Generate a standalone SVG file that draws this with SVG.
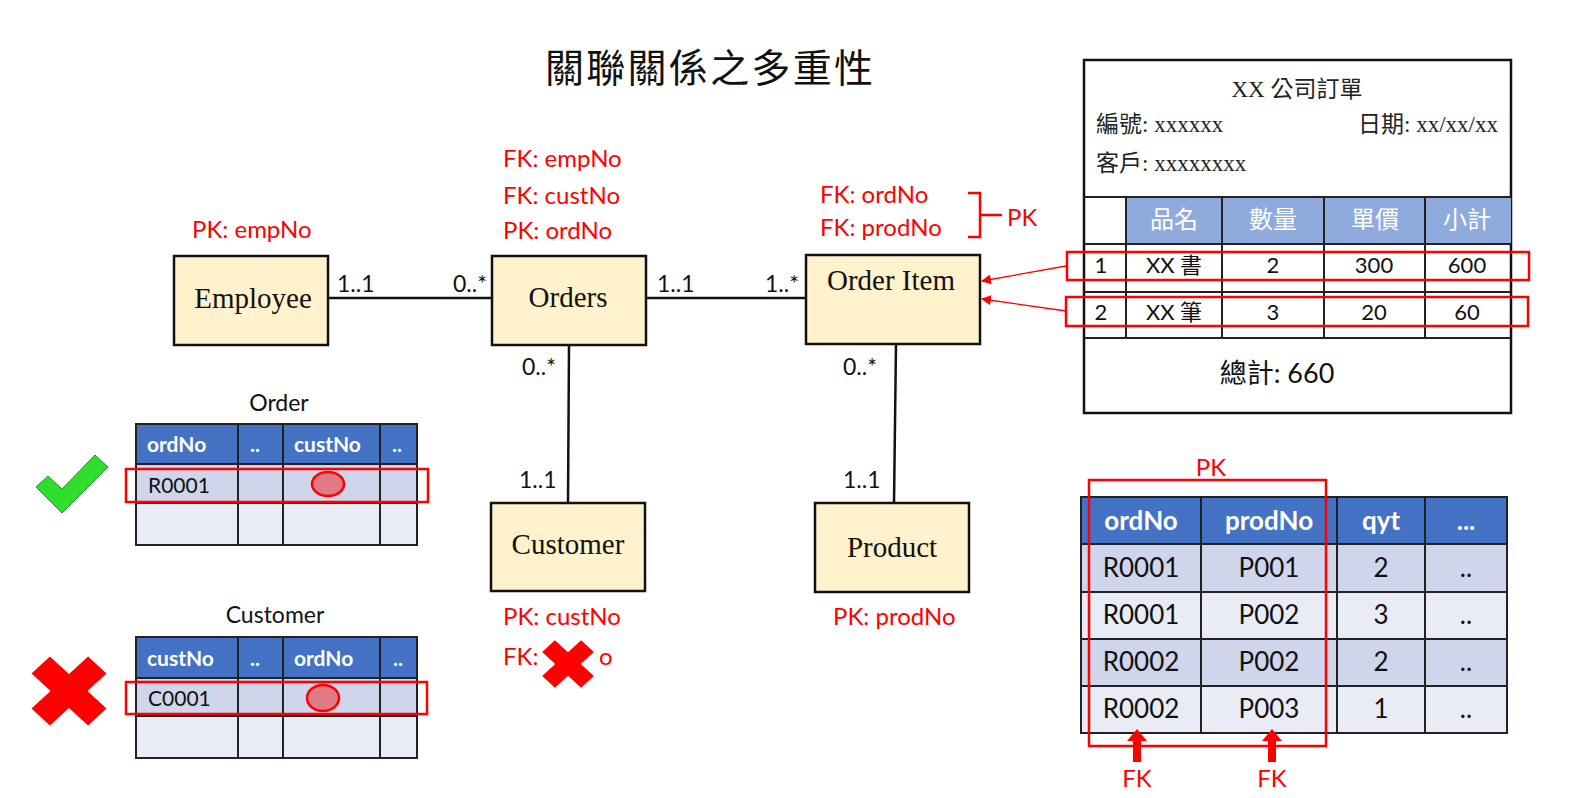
<svg xmlns="http://www.w3.org/2000/svg" width="1585" height="798" viewBox="0 0 1585 798">
<style>
.ent{fill:#FFF2CC;stroke:#111;stroke-width:2.5}
.en{font-family:"Liberation Serif","Noto Sans CJK TC",serif;font-size:29px;fill:#111;text-anchor:middle}
.red{font-family:Lato,"Noto Sans",sans-serif;font-size:24px;fill:#F00}
.mul{font-family:Lato,"Noto Sans",sans-serif;font-size:23px;fill:#111}
.conn{stroke:#111;stroke-width:2.5;fill:none}
.hl{fill:none;stroke:#F00;stroke-width:2.5}
.hdr{fill:#4472C4}
.r1{fill:#CFD5EA}
.r2{fill:#E9EBF5}
.grid{stroke:#222;stroke-width:2;fill:none}
.th{font-family:Lato,"Noto Sans",sans-serif;font-weight:bold;fill:#fff}
.td{font-family:Lato,"Noto Sans",sans-serif;fill:#111}
.cap{font-family:Lato,"Noto Sans",sans-serif;font-size:23px;fill:#111;text-anchor:middle}
.ser{font-family:"Liberation Serif","Noto Sans CJK TC",serif;font-size:23px;fill:#222}
.fc{font-family:Lato,"Noto Sans CJK TC",sans-serif;font-size:22px;fill:#111;text-anchor:middle}
.fh{font-family:"Noto Sans CJK TC",sans-serif;font-size:24px;fill:#fff;text-anchor:middle}
.mid{text-anchor:middle}
</style>
<defs>
<marker id="ah" viewBox="0 0 10 10" refX="9" refY="5" markerWidth="10" markerHeight="10" markerUnits="userSpaceOnUse" orient="auto">
<path d="M0,0 L10,5 L0,10 z" fill="#F00"/>
</marker>
</defs>
<rect width="1585" height="798" fill="#fff"/>

<text x="545" y="82" font-family="'Noto Sans CJK TC',sans-serif" font-size="39" textLength="328" lengthAdjust="spacing" fill="#111">關聯關係之多重性</text>

<g id="connectors">
<line class="conn" x1="328" y1="298" x2="492" y2="298"/>
<line class="conn" x1="646" y1="298" x2="806" y2="298"/>
<line class="conn" x1="569" y1="345" x2="568" y2="503"/>
<line class="conn" x1="896" y1="344" x2="894" y2="503"/>
<line x1="1066" y1="266" x2="982" y2="281" stroke="#F00" stroke-width="1.3" marker-end="url(#ah)"/>
<line x1="1066" y1="311" x2="982" y2="299" stroke="#F00" stroke-width="1.3" marker-end="url(#ah)"/>
<text class="mul" x="337" y="292">1..1</text>
<text class="mul" x="487" y="292" text-anchor="end">0..*</text>
<text class="mul" x="657" y="292">1..1</text>
<text class="mul" x="799" y="292" text-anchor="end">1..*</text>
<text class="mul" x="522" y="375">0..*</text>
<text class="mul" x="519" y="488">1..1</text>
<text class="mul" x="843" y="375">0..*</text>
<text class="mul" x="843" y="488">1..1</text>
</g>

<g id="employee">
<rect class="ent" x="174" y="256" width="154" height="89"/>
<text class="en" x="253" y="308">Employee</text>
<text class="red" x="192" y="238">PK: empNo</text>
</g>

<g id="orders">
<rect class="ent" x="492" y="256" width="154" height="89"/>
<text class="en" x="568" y="307">Orders</text>
<text class="red" x="503" y="167">FK: empNo</text>
<text class="red" x="503" y="204">FK: custNo</text>
<text class="red" x="503" y="239">PK: ordNo</text>
</g>

<g id="orderitem">
<rect class="ent" x="806" y="255" width="174" height="89"/>
<text class="en" x="891" y="290">Order Item</text>
<text class="red" x="820" y="203">FK: ordNo</text>
<text class="red" x="820" y="236">FK: prodNo</text>
<path d="M968,193 H980 V237 H968 M980,215 H1002" class="hl"/>
<text class="red" x="1007" y="226">PK</text>
</g>

<g id="customer">
<rect class="ent" x="491" y="503" width="154" height="88"/>
<text class="en" x="568" y="554">Customer</text>
<text class="red" x="503" y="625">PK: custNo</text>
<text class="red" x="503" y="665">FK:</text>
<g transform="translate(568,664) scale(1,0.92)" fill="#F00">
<rect x="-27.5" y="-9" width="55" height="18" transform="rotate(45)"/>
<rect x="-27.5" y="-9" width="55" height="18" transform="rotate(-45)"/>
</g>
<text class="red" x="599" y="665">o</text>
</g>

<g id="product">
<rect class="ent" x="815" y="503" width="154" height="89"/>
<text class="en" x="892" y="557">Product</text>
<text class="red" x="833" y="625">PK: prodNo</text>
</g>

<g id="order-table">
<text class="cap" x="279" y="411">Order</text>
<rect class="hdr" x="136" y="424" width="281" height="40"/>
<rect class="r1" x="136" y="464" width="281" height="39"/>
<rect class="r2" x="136" y="503" width="281" height="42"/>
<path class="grid" d="M136,424 H417 V545 H136 Z M136,464 H417 M136,503 H417 M238,424 V545 M283,424 V545 M380,424 V545"/>
<text class="th" font-size="21" x="147" y="452">ordNo</text>
<text class="th mid" font-size="21" x="255" y="452">..</text>
<text class="th" font-size="21" x="294" y="452">custNo</text>
<text class="th mid" font-size="21" x="397" y="452">..</text>
<text class="td" font-size="21" x="148" y="493">R0001</text>
<ellipse cx="328" cy="484" rx="16" ry="12" fill="#E07A85" stroke="#F00" stroke-width="2.5"/>
<rect class="hl" x="126" y="469" width="302" height="33"/>
<polygon points="36,487 48,476 62,489 95,455 108,467 62,513" fill="#2EDD2E" stroke="#1E9A1E" stroke-width="1"/>
</g>

<g id="customer-table">
<text class="cap" x="275" y="623">Customer</text>
<rect class="hdr" x="136" y="637" width="281" height="41"/>
<rect class="r1" x="136" y="678" width="281" height="38"/>
<rect class="r2" x="136" y="716" width="281" height="42"/>
<path class="grid" d="M136,637 H417 V758 H136 Z M136,678 H417 M136,716 H417 M238,637 V758 M283,637 V758 M380,637 V758"/>
<text class="th" font-size="21" x="147" y="666">custNo</text>
<text class="th mid" font-size="21" x="255" y="666">..</text>
<text class="th" font-size="21" x="294" y="666">ordNo</text>
<text class="th mid" font-size="21" x="398" y="666">..</text>
<text class="td" font-size="21" x="148" y="706">C0001</text>
<ellipse cx="323" cy="698" rx="16" ry="13" fill="#E07A85" stroke="#F00" stroke-width="2.5"/>
<rect class="hl" x="126" y="682" width="301" height="32"/>
<g transform="translate(69,691) scale(1,0.92)" fill="#F00">
<rect x="-40" y="-13" width="80" height="26" transform="rotate(45)"/>
<rect x="-40" y="-13" width="80" height="26" transform="rotate(-45)"/>
</g>
</g>

<g id="order-form">
<rect x="1084" y="60" width="427" height="353" fill="#fff" stroke="#111" stroke-width="2.5"/>
<text class="ser mid" x="1297" y="97">XX 公司訂單</text>
<text class="ser" x="1096" y="132">編號: xxxxxx</text>
<text class="ser" x="1498" y="132" text-anchor="end">日期: xx/xx/xx</text>
<text class="ser" x="1096" y="171">客戶: xxxxxxxx</text>
<rect x="1126" y="197" width="385" height="47" fill="#8FAADC"/>
<path class="grid" d="M1084,197 H1511 M1084,244 H1511 M1084,292 H1511 M1084,338 H1511 M1126,197 V338 M1222,197 V338 M1324,197 V338 M1425,197 V338"/>
<text class="fh" x="1174" y="228">品名</text>
<text class="fh" x="1273" y="228">數量</text>
<text class="fh" x="1375" y="228">單價</text>
<text class="fh" x="1467" y="228">小計</text>
<text class="fc" x="1101" y="273">1</text>
<text class="fc" x="1174" y="273">XX 書</text>
<text class="fc" x="1273" y="273">2</text>
<text class="fc" x="1374" y="273">300</text>
<text class="fc" x="1467" y="273">600</text>
<text class="fc" x="1101" y="320">2</text>
<text class="fc" x="1174" y="320">XX 筆</text>
<text class="fc" x="1273" y="320">3</text>
<text class="fc" x="1374" y="320">20</text>
<text class="fc" x="1467" y="320">60</text>
<text class="fc" style="font-size:27px" x="1277" y="383">總計: 660</text>
<rect class="hl" x="1067" y="252" width="462" height="28"/>
<rect class="hl" x="1066" y="297" width="462" height="29"/>
</g>

<g id="orderitem-table">
<rect class="hdr" x="1081" y="497" width="426" height="47"/>
<rect class="r1" x="1081" y="544" width="426" height="48"/>
<rect class="r2" x="1081" y="592" width="426" height="47"/>
<rect class="r1" x="1081" y="639" width="426" height="47"/>
<rect class="r2" x="1081" y="686" width="426" height="47"/>
<path class="grid" d="M1081,497 H1507 V733 H1081 Z M1081,544 H1507 M1081,592 H1507 M1081,639 H1507 M1081,686 H1507 M1201,497 V733 M1337,497 V733 M1425,497 V733"/>
<text class="th mid" font-size="26" x="1141" y="530">ordNo</text>
<text class="th mid" font-size="26" x="1269" y="530">prodNo</text>
<text class="th mid" font-size="26" x="1381" y="530">qyt</text>
<text class="th mid" font-size="26" x="1466" y="530">...</text>
<text class="td mid" font-size="26" x="1141" y="577">R0001</text>
<text class="td mid" font-size="26" x="1269" y="577">P001</text>
<text class="td mid" font-size="26" x="1381" y="577">2</text>
<text class="td mid" font-size="26" x="1466" y="577">..</text>
<text class="td mid" font-size="26" x="1141" y="624">R0001</text>
<text class="td mid" font-size="26" x="1269" y="624">P002</text>
<text class="td mid" font-size="26" x="1381" y="624">3</text>
<text class="td mid" font-size="26" x="1466" y="624">..</text>
<text class="td mid" font-size="26" x="1141" y="671">R0002</text>
<text class="td mid" font-size="26" x="1269" y="671">P002</text>
<text class="td mid" font-size="26" x="1381" y="671">2</text>
<text class="td mid" font-size="26" x="1466" y="671">..</text>
<text class="td mid" font-size="26" x="1141" y="718">R0002</text>
<text class="td mid" font-size="26" x="1269" y="718">P003</text>
<text class="td mid" font-size="26" x="1381" y="718">1</text>
<text class="td mid" font-size="26" x="1466" y="718">..</text>
<rect class="hl" x="1089" y="480" width="237" height="266" stroke-width="3"/>
<text class="red mid" x="1211" y="476">PK</text>
<path d="M1137,729 L1147,741 L1141,741 L1141,762 L1133,762 L1133,741 L1127,741 Z" fill="#F00"/>
<path d="M1272,729 L1282,741 L1276,741 L1276,762 L1268,762 L1268,741 L1262,741 Z" fill="#F00"/>
<text class="red mid" x="1137" y="787">FK</text>
<text class="red mid" x="1272" y="787">FK</text>
</g>
</svg>
